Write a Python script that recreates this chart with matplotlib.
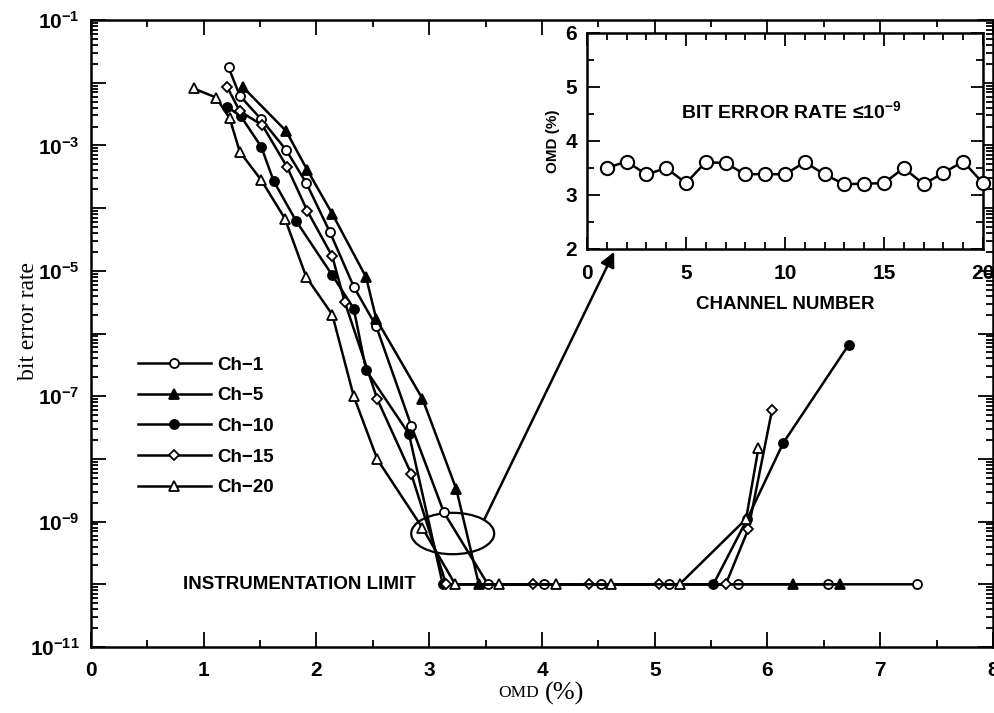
import numpy as np
import matplotlib.pyplot as plt
from matplotlib.patches import Ellipse
from matplotlib.ticker import LogLocator, FuncFormatter, MultipleLocator, NullFormatter

plt.rcParams['font.family'] = ['Liberation Sans', 'DejaVu Sans']
plt.rcParams['mathtext.fontset'] = 'custom'
plt.rcParams['mathtext.rm'] = 'Liberation Sans:bold'
plt.rcParams['mathtext.bf'] = 'Liberation Sans:bold'
plt.rcParams['mathtext.it'] = 'Liberation Sans:bold'
plt.rcParams['axes.linewidth'] = 1.8

# bit error rate vs OMD (%) for five channels, limit = 1e-10
ch1_omd = [1.22, 1.32, 1.51, 1.73, 1.91, 2.12, 2.33, 2.53, 2.84, 3.13,
           3.52, 4.02, 4.52, 5.13, 5.74, 6.54, 7.33]
ch1_ber = [1.75e-2, 6.2e-3, 2.6e-3, 8.5e-4, 2.5e-4, 4.1e-5, 5.6e-6, 1.3e-6, 3.4e-8, 1.4e-9,
           1e-10, 1e-10, 1e-10, 1e-10, 1e-10, 1e-10, 1e-10]

ch5_omd = [1.35, 1.73, 1.92, 2.14, 2.44, 2.53, 2.94, 3.24, 3.44, 6.23, 6.64]
ch5_ber = [8.4e-3, 1.7e-3, 4.0e-4, 8.1e-5, 7.9e-6, 1.7e-6, 9.1e-8, 3.3e-9, 1e-10, 1e-10, 1e-10]

ch10_omd = [1.21, 1.33, 1.51, 1.62, 1.82, 2.14, 2.33, 2.44, 2.82, 3.12,
            5.52, 5.82, 6.14, 6.72]
ch10_ber = [4.1e-3, 2.9e-3, 9.5e-4, 2.7e-4, 6.2e-5, 8.5e-6, 2.5e-6, 2.6e-7, 2.5e-8, 1e-10,
            1e-10, 1.1e-9, 1.8e-8, 6.6e-7]

ch15_omd = [1.21, 1.32, 1.52, 1.74, 1.92, 2.14, 2.25, 2.54, 2.84, 3.15,
            3.92, 4.42, 5.04, 5.63, 5.83, 6.04]
ch15_ber = [8.4e-3, 3.5e-3, 2.1e-3, 4.5e-4, 8.9e-5, 1.7e-5, 3.2e-6, 8.9e-8, 5.8e-9, 1e-10,
            1e-10, 1e-10, 1e-10, 1e-10, 7.6e-10, 6.0e-8]

ch20_omd = [0.91, 1.11, 1.23, 1.32, 1.51, 1.72, 1.91, 2.14, 2.33, 2.54, 2.94, 3.23,
            3.62, 4.12, 4.61, 5.22, 5.81, 5.92]
ch20_ber = [8.1e-3, 5.8e-3, 2.7e-3, 7.9e-4, 2.8e-4, 6.8e-5, 7.9e-6, 2.0e-6, 1.0e-7, 9.8e-9,
            7.9e-10, 1e-10, 1e-10, 1e-10, 1e-10, 1e-10, 1.1e-9, 1.5e-8]

# inset: OMD giving BER <= 1e-9 per channel
channels = list(range(1, 21))
omd_1e9 = [3.50, 3.62, 3.38, 3.50, 3.22, 3.61, 3.59, 3.38, 3.39, 3.38,
           3.61, 3.38, 3.20, 3.21, 3.22, 3.50, 3.20, 3.41, 3.62, 3.22]

series = [
    ('Ch\u22121', ch1_omd, ch1_ber, 'o', 'white', 6.5),
    ('Ch\u22125', ch5_omd, ch5_ber, '^', 'black', 6.5),
    ('Ch\u221210', ch10_omd, ch10_ber, 'o', 'black', 6.5),
    ('Ch\u221215', ch15_omd, ch15_ber, 'D', 'white', 5.0),
    ('Ch\u221220', ch20_omd, ch20_ber, '^', 'white', 7.0),
]

fig = plt.figure(figsize=(9.95, 7.13), dpi=100)
ax = fig.add_axes([91 / 995, 66 / 713, 902 / 995, 627 / 713])

for label, x, y, mk, fc, ms in series:
    ax.plot(x, y, color='black', lw=1.8, marker=mk, markersize=ms,
            markerfacecolor=fc, markeredgecolor='black', markeredgewidth=1.3,
            label=label)

ax.set_yscale('log')
ax.set_xlim(0, 8)
ax.set_ylim(1e-11, 1e-1)
ax.xaxis.set_major_locator(MultipleLocator(1))
ax.xaxis.set_minor_locator(MultipleLocator(0.5))
ax.yaxis.set_major_locator(LogLocator(base=10, numticks=15))
ax.yaxis.set_minor_locator(LogLocator(base=10, subs=np.arange(2, 10), numticks=15))
ax.yaxis.set_minor_formatter(NullFormatter())


def odd_decades(v, pos):
    e = int(round(np.log10(v)))
    if e % 2 == 0:
        return ''
    return r'$\mathbf{10^{%d}}$' % e


ax.yaxis.set_major_formatter(FuncFormatter(odd_decades))
ax.tick_params(which='both', direction='in', top=True, right=True, width=1.3)
ax.tick_params(which='major', length=11, labelsize=15, pad=8)
ax.tick_params(which='minor', length=5)
ax.tick_params(axis='x', which='major', pad=10)
for lab in ax.get_xticklabels():
    lab.set_fontweight('bold')

ax.set_ylabel('bit error rate', family='Liberation Serif', fontsize=17)
ax.yaxis.set_label_coords(-0.058, 0.52)
ax.text(0.497, -0.074, 'OMD', transform=ax.transAxes, family='Liberation Serif',
        fontsize=12.5, ha='right', va='center')
ax.text(0.503, -0.074, '(%)', transform=ax.transAxes, family='Liberation Serif',
        fontsize=19, ha='left', va='center')

ax.legend(loc='upper left', bbox_to_anchor=(0.033, 0.49), frameon=False,
          handlelength=3.9, handletextpad=0.35, labelspacing=0.72,
          prop={'weight': 'bold', 'size': 13.5})

ax.text(0.82, 1e-10, 'INSTRUMENTATION LIMIT', fontsize=13.5, fontweight='bold',
        ha='left', va='center')

ax.add_patch(Ellipse((0.401, 0.181), 0.092, 0.066, transform=ax.transAxes,
                     fill=False, edgecolor='black', lw=1.6))
ax.annotate('', xy=(4.64, 2.0e-5), xytext=(3.49, 1.1e-9),
            arrowprops=dict(arrowstyle='-|>', color='black', lw=1.8,
                            mutation_scale=22, shrinkA=0, shrinkB=0))

# inset
ins = fig.add_axes([587 / 995, 464 / 713, 396 / 995, 216 / 713])
ins.set_facecolor('white')
ins.plot(channels, omd_1e9, color='black', lw=1.8, marker='o', markersize=9.5,
         markerfacecolor='white', markeredgecolor='black', markeredgewidth=1.5,
         clip_on=False, zorder=5)
ins.set_xlim(0, 20)
ins.set_ylim(2, 6)
ins.xaxis.set_major_locator(MultipleLocator(5))
ins.xaxis.set_minor_locator(MultipleLocator(1))
ins.yaxis.set_major_locator(MultipleLocator(1))
ins.yaxis.set_minor_locator(MultipleLocator(0.5))
ins.tick_params(which='both', direction='in', top=True, right=True, width=1.3)
ins.tick_params(which='major', length=9, labelsize=15, pad=7)
ins.tick_params(which='minor', length=5)
ins.tick_params(axis='x', which='major', pad=11)
for lab in ins.get_xticklabels() + ins.get_yticklabels():
    lab.set_fontweight('bold')
ins.set_xlabel('CHANNEL NUMBER', fontsize=13.5, fontweight='bold', labelpad=9)
ins.set_ylabel('OMD (%)', fontsize=11, fontweight='bold', labelpad=4)
ins.text(10.3, 4.55, 'BIT ERROR RATE \u226410$^{\\mathbf{\u22129}}$', fontsize=14,
         fontweight='bold', ha='center', va='center')

fig.savefig('out.png', dpi=100)
